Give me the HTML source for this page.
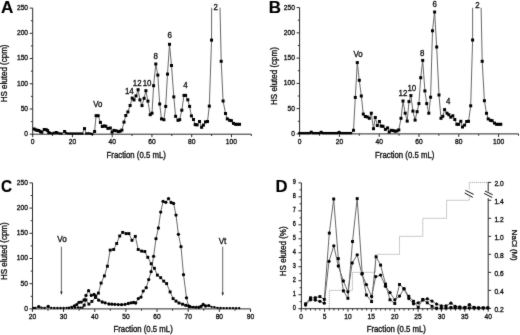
<!DOCTYPE html>
<html><head><meta charset="utf-8"><style>html,body{margin:0;padding:0;background:#fff;width:520px;height:335px;overflow:hidden}svg{display:block;filter:grayscale(1)}</style></head><body>
<svg width="520" height="335" viewBox="0 0 520 335" font-family='"Liberation Sans", sans-serif'>
<defs>
<filter id="soft" x="0" y="0" width="520" height="335" filterUnits="userSpaceOnUse" color-interpolation-filters="sRGB"><feConvolveMatrix order="3" kernelMatrix="0.01 0.07 0.01 0.07 0.68 0.07 0.01 0.07 0.01" edgeMode="duplicate"/></filter>
<clipPath id="cA"><rect x="30" y="7.8" width="230" height="130"/></clipPath>
<clipPath id="cB"><rect x="296" y="7.8" width="224" height="130"/></clipPath>
</defs>
<rect width="520" height="335" fill="#fff"/>
<g filter="url(#soft)">
<line x1="32.7" y1="8.1" x2="32.7" y2="134.7" stroke="#2a2a2a" stroke-width="1.0" />
<line x1="29.7" y1="134.2" x2="32.7" y2="134.2" stroke="#2a2a2a" stroke-width="1.0" />
<text transform="translate(28.1 136.1) scale(1 1.05)" font-size="6.7" text-anchor="end" font-weight="normal" fill="#111" stroke="#111" stroke-width="0.32">0</text>
<line x1="30.9" y1="121.59" x2="32.7" y2="121.59" stroke="#2a2a2a" stroke-width="1.0" />
<line x1="29.7" y1="108.98" x2="32.7" y2="108.98" stroke="#2a2a2a" stroke-width="1.0" />
<text transform="translate(28.1 110.88) scale(1 1.05)" font-size="6.7" text-anchor="end" font-weight="normal" fill="#111" stroke="#111" stroke-width="0.32">50</text>
<line x1="30.9" y1="96.37" x2="32.7" y2="96.37" stroke="#2a2a2a" stroke-width="1.0" />
<line x1="29.7" y1="83.76" x2="32.7" y2="83.76" stroke="#2a2a2a" stroke-width="1.0" />
<text transform="translate(28.1 85.66) scale(1 1.05)" font-size="6.7" text-anchor="end" font-weight="normal" fill="#111" stroke="#111" stroke-width="0.32">100</text>
<line x1="30.9" y1="71.15" x2="32.7" y2="71.15" stroke="#2a2a2a" stroke-width="1.0" />
<line x1="29.7" y1="58.54" x2="32.7" y2="58.54" stroke="#2a2a2a" stroke-width="1.0" />
<text transform="translate(28.1 60.44) scale(1 1.05)" font-size="6.7" text-anchor="end" font-weight="normal" fill="#111" stroke="#111" stroke-width="0.32">150</text>
<line x1="30.9" y1="45.93" x2="32.7" y2="45.93" stroke="#2a2a2a" stroke-width="1.0" />
<line x1="29.7" y1="33.32" x2="32.7" y2="33.32" stroke="#2a2a2a" stroke-width="1.0" />
<text transform="translate(28.1 35.22) scale(1 1.05)" font-size="6.7" text-anchor="end" font-weight="normal" fill="#111" stroke="#111" stroke-width="0.32">200</text>
<line x1="30.9" y1="20.71" x2="32.7" y2="20.71" stroke="#2a2a2a" stroke-width="1.0" />
<line x1="29.7" y1="8.1" x2="32.7" y2="8.1" stroke="#2a2a2a" stroke-width="1.0" />
<text transform="translate(28.1 10) scale(1 1.05)" font-size="6.7" text-anchor="end" font-weight="normal" fill="#111" stroke="#111" stroke-width="0.32">250</text>
<line x1="32.2" y1="134.2" x2="251.32" y2="134.2" stroke="#2a2a2a" stroke-width="1.0" />
<line x1="32.7" y1="134.2" x2="32.7" y2="137.2" stroke="#2a2a2a" stroke-width="1.0" />
<text transform="translate(32.7 144.1) scale(1 1.05)" font-size="6.7" text-anchor="middle" font-weight="normal" fill="#111" stroke="#111" stroke-width="0.32">0</text>
<line x1="52.58" y1="134.2" x2="52.58" y2="136" stroke="#2a2a2a" stroke-width="1.0" />
<line x1="72.45" y1="134.2" x2="72.45" y2="137.2" stroke="#2a2a2a" stroke-width="1.0" />
<text transform="translate(72.45 144.1) scale(1 1.05)" font-size="6.7" text-anchor="middle" font-weight="normal" fill="#111" stroke="#111" stroke-width="0.32">20</text>
<line x1="92.33" y1="134.2" x2="92.33" y2="136" stroke="#2a2a2a" stroke-width="1.0" />
<line x1="112.2" y1="134.2" x2="112.2" y2="137.2" stroke="#2a2a2a" stroke-width="1.0" />
<text transform="translate(112.2 144.1) scale(1 1.05)" font-size="6.7" text-anchor="middle" font-weight="normal" fill="#111" stroke="#111" stroke-width="0.32">40</text>
<line x1="132.07" y1="134.2" x2="132.07" y2="136" stroke="#2a2a2a" stroke-width="1.0" />
<line x1="151.95" y1="134.2" x2="151.95" y2="137.2" stroke="#2a2a2a" stroke-width="1.0" />
<text transform="translate(151.95 144.1) scale(1 1.05)" font-size="6.7" text-anchor="middle" font-weight="normal" fill="#111" stroke="#111" stroke-width="0.32">60</text>
<line x1="171.82" y1="134.2" x2="171.82" y2="136" stroke="#2a2a2a" stroke-width="1.0" />
<line x1="191.7" y1="134.2" x2="191.7" y2="137.2" stroke="#2a2a2a" stroke-width="1.0" />
<text transform="translate(191.7 144.1) scale(1 1.05)" font-size="6.7" text-anchor="middle" font-weight="normal" fill="#111" stroke="#111" stroke-width="0.32">80</text>
<line x1="211.57" y1="134.2" x2="211.57" y2="136" stroke="#2a2a2a" stroke-width="1.0" />
<line x1="231.45" y1="134.2" x2="231.45" y2="137.2" stroke="#2a2a2a" stroke-width="1.0" />
<text transform="translate(231.45 144.1) scale(1 1.05)" font-size="6.7" text-anchor="middle" font-weight="normal" fill="#111" stroke="#111" stroke-width="0.32">100</text>
<line x1="251.32" y1="134.2" x2="251.32" y2="136" stroke="#2a2a2a" stroke-width="1.0" />
<text transform="translate(136.2 158) scale(1 1.05)" font-size="7.8" text-anchor="middle" font-weight="normal" fill="#111" stroke="#111" stroke-width="0.32">Fraction (0.5 mL)</text>
<text transform="translate(6.85 73.4) rotate(-90) scale(1 1.05)" font-size="8.0" text-anchor="middle" font-weight="normal" fill="#111" stroke="#111" stroke-width="0.32">HS eluted (cpm)</text>
<polyline points="34.2,129 35.8,129.9 37.3,130.3 38.8,130.5 40.4,131.7 41.9,132.2 44.2,129.5 46.2,129.7 47.6,130.6 48.8,132.6 50.4,133 52.3,133.4 53.8,132.8 56.2,132.5 57.7,132.8 59.6,133.4 61.5,133.6 64.6,131.5 66.2,133 68.3,133.5 70.3,133.5 72.3,133.5 74.3,133.5 76.3,133.5 78.3,133.5 80.3,133.5 82.3,133.5 84.5,128.6 86.3,133.5 88.4,133.3 90.4,133.6 92.3,134 94.6,131.5 96.1,115.7 98.2,115.7 100.4,122.4 102.3,126.5 104.2,125.9 105.8,126.3 107.9,128.4 110.3,128 112.1,132.2 113.9,130.4 116.1,130.8 118.4,131.6 120.2,131.2 121.9,130.1 124,122.1 125.8,115.5 127.9,111.9 130.1,105.5 132.2,98.1 134,99.9 136,95.9 138.1,89.7 139.9,99.9 142,105.6 144.1,98.3 145.9,90.7 147.9,101.1 150.2,114.7 152,113.2 153.6,85.7 155.8,64 157.8,75.1 159.7,104 161.5,118.9 163.9,119.7 165.7,106.4 167.5,74.1 169.5,44.3 171.5,65.5 173.8,96.9 175.6,116.3 178,120.3 179.7,119.7 181.8,110.2 184,95.4 185.6,95.4 187.8,99.8 189.6,106.4 191.4,115.9 193.5,119.5 195.2,124.6 197.1,124.9 199.5,121.5 201.6,127.3 203.4,125.1 205.5,121.9 207.5,121.5 209.3,106.1 211.55,40.1 211.65,7.8 211.65,-400 220,-400 220,7.8 221.2,61.3 223.1,101 225.5,113.5 227.3,118.9 229.7,120.3 231.4,120.7 233.5,123.4 235.6,124.3 237.4,124.3 239.5,124.3" fill="none" stroke="#686868" stroke-width="1.0" stroke-linejoin="round" clip-path="url(#cA)"/>
<g fill="#000">
<rect x="32.7" y="127.5" width="3.0" height="3.0"/>
<rect x="34.3" y="128.4" width="3.0" height="3.0"/>
<rect x="35.8" y="128.8" width="3.0" height="3.0"/>
<rect x="37.3" y="129" width="3.0" height="3.0"/>
<rect x="38.9" y="130.2" width="3.0" height="3.0"/>
<rect x="40.4" y="130.7" width="3.0" height="3.0"/>
<rect x="42.7" y="128" width="3.0" height="3.0"/>
<rect x="44.7" y="128.2" width="3.0" height="3.0"/>
<rect x="46.1" y="129.1" width="3.0" height="3.0"/>
<rect x="47.3" y="131.1" width="3.0" height="3.0"/>
<rect x="49.3" y="131.9" width="2.2" height="2.2"/>
<rect x="51.2" y="132.3" width="2.2" height="2.2"/>
<rect x="52.7" y="131.7" width="2.2" height="2.2"/>
<rect x="54.7" y="131" width="3.0" height="3.0"/>
<rect x="56.6" y="131.7" width="2.2" height="2.2"/>
<rect x="58.5" y="132.3" width="2.2" height="2.2"/>
<rect x="60.4" y="132.5" width="2.2" height="2.2"/>
<rect x="63.1" y="130" width="3.0" height="3.0"/>
<rect x="65.1" y="131.9" width="2.2" height="2.2"/>
<rect x="67.2" y="132.4" width="2.2" height="2.2"/>
<rect x="69.2" y="132.4" width="2.2" height="2.2"/>
<rect x="71.2" y="132.4" width="2.2" height="2.2"/>
<rect x="73.2" y="132.4" width="2.2" height="2.2"/>
<rect x="75.2" y="132.4" width="2.2" height="2.2"/>
<rect x="77.2" y="132.4" width="2.2" height="2.2"/>
<rect x="79.2" y="132.4" width="2.2" height="2.2"/>
<rect x="81.2" y="132.4" width="2.2" height="2.2"/>
<rect x="83" y="127.1" width="3.0" height="3.0"/>
<rect x="85.2" y="132.4" width="2.2" height="2.2"/>
<rect x="87.3" y="132.2" width="2.2" height="2.2"/>
<rect x="89.3" y="132.5" width="2.2" height="2.2"/>
<rect x="91.2" y="132.9" width="2.2" height="2.2"/>
<rect x="93.1" y="130" width="3.0" height="3.0"/>
<rect x="94.6" y="114.2" width="3.0" height="3.0"/>
<rect x="96.7" y="114.2" width="3.0" height="3.0"/>
<rect x="98.9" y="120.9" width="3.0" height="3.0"/>
<rect x="100.8" y="125" width="3.0" height="3.0"/>
<rect x="102.7" y="124.4" width="3.0" height="3.0"/>
<rect x="104.3" y="124.8" width="3.0" height="3.0"/>
<rect x="106.4" y="126.9" width="3.0" height="3.0"/>
<rect x="108.8" y="126.5" width="3.0" height="3.0"/>
<rect x="110.6" y="130.7" width="3.0" height="3.0"/>
<rect x="112.4" y="128.9" width="3.0" height="3.0"/>
<rect x="114.6" y="129.3" width="3.0" height="3.0"/>
<rect x="116.9" y="130.1" width="3.0" height="3.0"/>
<rect x="118.7" y="129.7" width="3.0" height="3.0"/>
<rect x="120.4" y="128.6" width="3.0" height="3.0"/>
<rect x="122.5" y="120.6" width="3.0" height="3.0"/>
<rect x="124.3" y="114" width="3.0" height="3.0"/>
<rect x="126.4" y="110.4" width="3.0" height="3.0"/>
<rect x="128.6" y="104" width="3.0" height="3.0"/>
<rect x="130.7" y="96.6" width="3.0" height="3.0"/>
<rect x="132.5" y="98.4" width="3.0" height="3.0"/>
<rect x="134.5" y="94.4" width="3.0" height="3.0"/>
<rect x="136.6" y="88.2" width="3.0" height="3.0"/>
<rect x="138.4" y="98.4" width="3.0" height="3.0"/>
<rect x="140.5" y="104.1" width="3.0" height="3.0"/>
<rect x="142.6" y="96.8" width="3.0" height="3.0"/>
<rect x="144.4" y="89.2" width="3.0" height="3.0"/>
<rect x="146.4" y="99.6" width="3.0" height="3.0"/>
<rect x="148.7" y="113.2" width="3.0" height="3.0"/>
<rect x="150.5" y="111.7" width="3.0" height="3.0"/>
<rect x="152.1" y="84.2" width="3.0" height="3.0"/>
<rect x="154.3" y="62.5" width="3.0" height="3.0"/>
<rect x="156.3" y="73.6" width="3.0" height="3.0"/>
<rect x="158.2" y="102.5" width="3.0" height="3.0"/>
<rect x="160" y="117.4" width="3.0" height="3.0"/>
<rect x="162.4" y="118.2" width="3.0" height="3.0"/>
<rect x="164.2" y="104.9" width="3.0" height="3.0"/>
<rect x="166" y="72.6" width="3.0" height="3.0"/>
<rect x="168" y="42.8" width="3.0" height="3.0"/>
<rect x="170" y="64" width="3.0" height="3.0"/>
<rect x="172.3" y="95.4" width="3.0" height="3.0"/>
<rect x="174.1" y="114.8" width="3.0" height="3.0"/>
<rect x="176.5" y="118.8" width="3.0" height="3.0"/>
<rect x="178.2" y="118.2" width="3.0" height="3.0"/>
<rect x="180.3" y="108.7" width="3.0" height="3.0"/>
<rect x="182.5" y="93.9" width="3.0" height="3.0"/>
<rect x="184.1" y="93.9" width="3.0" height="3.0"/>
<rect x="186.3" y="98.3" width="3.0" height="3.0"/>
<rect x="188.1" y="104.9" width="3.0" height="3.0"/>
<rect x="189.9" y="114.4" width="3.0" height="3.0"/>
<rect x="192" y="118" width="3.0" height="3.0"/>
<rect x="193.7" y="123.1" width="3.0" height="3.0"/>
<rect x="195.6" y="123.4" width="3.0" height="3.0"/>
<rect x="198" y="120" width="3.0" height="3.0"/>
<rect x="200.1" y="125.8" width="3.0" height="3.0"/>
<rect x="201.9" y="123.6" width="3.0" height="3.0"/>
<rect x="204" y="120.4" width="3.0" height="3.0"/>
<rect x="206" y="120" width="3.0" height="3.0"/>
<rect x="207.8" y="104.6" width="3.0" height="3.0"/>
<rect x="210.05" y="38.6" width="3.0" height="3.0"/>
<rect x="219.7" y="59.8" width="3.0" height="3.0"/>
<rect x="221.6" y="99.5" width="3.0" height="3.0"/>
<rect x="224" y="112" width="3.0" height="3.0"/>
<rect x="225.8" y="117.4" width="3.0" height="3.0"/>
<rect x="228.2" y="118.8" width="3.0" height="3.0"/>
<rect x="229.9" y="119.2" width="3.0" height="3.0"/>
<rect x="232" y="121.9" width="3.0" height="3.0"/>
<rect x="234.1" y="122.8" width="3.0" height="3.0"/>
<rect x="235.9" y="122.8" width="3.0" height="3.0"/>
<rect x="238" y="122.8" width="3.0" height="3.0"/>
</g>
<line x1="299.6" y1="7.6" x2="299.6" y2="134.4" stroke="#2a2a2a" stroke-width="1.0" />
<line x1="296.6" y1="133.9" x2="299.6" y2="133.9" stroke="#2a2a2a" stroke-width="1.0" />
<text transform="translate(295 135.8) scale(1 1.05)" font-size="6.7" text-anchor="end" font-weight="normal" fill="#111" stroke="#111" stroke-width="0.32">0</text>
<line x1="297.8" y1="121.27" x2="299.6" y2="121.27" stroke="#2a2a2a" stroke-width="1.0" />
<line x1="296.6" y1="108.64" x2="299.6" y2="108.64" stroke="#2a2a2a" stroke-width="1.0" />
<text transform="translate(295 110.54) scale(1 1.05)" font-size="6.7" text-anchor="end" font-weight="normal" fill="#111" stroke="#111" stroke-width="0.32">50</text>
<line x1="297.8" y1="96.01" x2="299.6" y2="96.01" stroke="#2a2a2a" stroke-width="1.0" />
<line x1="296.6" y1="83.38" x2="299.6" y2="83.38" stroke="#2a2a2a" stroke-width="1.0" />
<text transform="translate(295 85.28) scale(1 1.05)" font-size="6.7" text-anchor="end" font-weight="normal" fill="#111" stroke="#111" stroke-width="0.32">100</text>
<line x1="297.8" y1="70.75" x2="299.6" y2="70.75" stroke="#2a2a2a" stroke-width="1.0" />
<line x1="296.6" y1="58.12" x2="299.6" y2="58.12" stroke="#2a2a2a" stroke-width="1.0" />
<text transform="translate(295 60.02) scale(1 1.05)" font-size="6.7" text-anchor="end" font-weight="normal" fill="#111" stroke="#111" stroke-width="0.32">150</text>
<line x1="297.8" y1="45.49" x2="299.6" y2="45.49" stroke="#2a2a2a" stroke-width="1.0" />
<line x1="296.6" y1="32.86" x2="299.6" y2="32.86" stroke="#2a2a2a" stroke-width="1.0" />
<text transform="translate(295 34.76) scale(1 1.05)" font-size="6.7" text-anchor="end" font-weight="normal" fill="#111" stroke="#111" stroke-width="0.32">200</text>
<line x1="297.8" y1="20.23" x2="299.6" y2="20.23" stroke="#2a2a2a" stroke-width="1.0" />
<line x1="296.6" y1="7.6" x2="299.6" y2="7.6" stroke="#2a2a2a" stroke-width="1.0" />
<text transform="translate(295 9.5) scale(1 1.05)" font-size="6.7" text-anchor="end" font-weight="normal" fill="#111" stroke="#111" stroke-width="0.32">250</text>
<line x1="299.1" y1="133.9" x2="518.5" y2="133.9" stroke="#2a2a2a" stroke-width="1.0" />
<line x1="299.6" y1="133.9" x2="299.6" y2="136.9" stroke="#2a2a2a" stroke-width="1.0" />
<text transform="translate(299.6 143.8) scale(1 1.05)" font-size="6.7" text-anchor="middle" font-weight="normal" fill="#111" stroke="#111" stroke-width="0.32">0</text>
<line x1="319.5" y1="133.9" x2="319.5" y2="135.7" stroke="#2a2a2a" stroke-width="1.0" />
<line x1="339.4" y1="133.9" x2="339.4" y2="136.9" stroke="#2a2a2a" stroke-width="1.0" />
<text transform="translate(339.4 143.8) scale(1 1.05)" font-size="6.7" text-anchor="middle" font-weight="normal" fill="#111" stroke="#111" stroke-width="0.32">20</text>
<line x1="359.3" y1="133.9" x2="359.3" y2="135.7" stroke="#2a2a2a" stroke-width="1.0" />
<line x1="379.2" y1="133.9" x2="379.2" y2="136.9" stroke="#2a2a2a" stroke-width="1.0" />
<text transform="translate(379.2 143.8) scale(1 1.05)" font-size="6.7" text-anchor="middle" font-weight="normal" fill="#111" stroke="#111" stroke-width="0.32">40</text>
<line x1="399.1" y1="133.9" x2="399.1" y2="135.7" stroke="#2a2a2a" stroke-width="1.0" />
<line x1="419" y1="133.9" x2="419" y2="136.9" stroke="#2a2a2a" stroke-width="1.0" />
<text transform="translate(419 143.8) scale(1 1.05)" font-size="6.7" text-anchor="middle" font-weight="normal" fill="#111" stroke="#111" stroke-width="0.32">60</text>
<line x1="438.9" y1="133.9" x2="438.9" y2="135.7" stroke="#2a2a2a" stroke-width="1.0" />
<line x1="458.8" y1="133.9" x2="458.8" y2="136.9" stroke="#2a2a2a" stroke-width="1.0" />
<text transform="translate(458.8 143.8) scale(1 1.05)" font-size="6.7" text-anchor="middle" font-weight="normal" fill="#111" stroke="#111" stroke-width="0.32">80</text>
<line x1="478.7" y1="133.9" x2="478.7" y2="135.7" stroke="#2a2a2a" stroke-width="1.0" />
<line x1="498.6" y1="133.9" x2="498.6" y2="136.9" stroke="#2a2a2a" stroke-width="1.0" />
<text transform="translate(498.6 143.8) scale(1 1.05)" font-size="6.7" text-anchor="middle" font-weight="normal" fill="#111" stroke="#111" stroke-width="0.32">100</text>
<line x1="518.5" y1="133.9" x2="518.5" y2="135.7" stroke="#2a2a2a" stroke-width="1.0" />
<text transform="translate(404.7 158) scale(1 1.05)" font-size="7.8" text-anchor="middle" font-weight="normal" fill="#111" stroke="#111" stroke-width="0.32">Fraction (0.5 mL)</text>
<text transform="translate(276.95 76.05) rotate(-90) scale(1 1.05)" font-size="8.0" text-anchor="middle" font-weight="normal" fill="#111" stroke="#111" stroke-width="0.32">HS eluted (cpm)</text>
<polyline points="299.3,133.1 301.29,133.1 303.28,133.1 305.27,133.1 307.26,133.1 309.25,133.1 311.24,132.2 313.23,133.1 315.22,133.1 317.21,133.1 319.2,133.1 321.19,132.3 323.18,133.1 325.17,133.1 327.16,133.1 329.15,133.1 331.14,133.1 333.13,133.1 335.12,133.1 337.11,133.1 339.1,132.4 341.09,133.1 343.08,133.1 345.07,133.1 347.06,133.1 349.05,133.1 351.04,133.1 353.5,130.3 355.3,97.4 357.3,62.6 359.3,80.3 361.3,96 363.3,114.1 365.3,116.5 367.2,116.9 369.3,118.3 371.3,113.2 373.5,128.7 375.3,117.5 377.3,125.5 379.4,121.5 381.2,126.1 383,126.3 385.4,129.4 387.6,127.9 389.2,132 391.2,130.3 393.2,130.6 395.2,131.3 397,130.9 398.8,129.9 401,118.3 403,101 405.2,113.2 407.2,121.1 409,101.6 410.9,95.6 412.9,111.1 415.1,120.1 417.1,111.7 418.9,103.6 420.7,77.7 422.7,60.4 424.9,90.9 426.7,103.6 428.8,113.2 430.6,97.2 432.5,30.8 434.6,12 436.7,47 439,95 441,118.3 442.8,116.3 444.6,109.6 447,113.2 448.8,114.7 450.8,117.1 452.8,115.8 454.8,119.5 456.9,124.3 458.6,124.3 460.8,121.3 462.5,127 464.6,125.1 466.7,121.5 468.5,121.3 470.7,105.8 472.6,40 472.65,7.8 472.65,-400 481.1,-400 481.1,7.8 482.2,61.3 484.4,100.7 486.5,113.3 488.2,118.9 490.4,120.3 492.1,120.7 494.5,123.1 496.6,124.3 498.8,124.3 500.8,124.3" fill="none" stroke="#686868" stroke-width="1.0" stroke-linejoin="round" clip-path="url(#cB)"/>
<g fill="#000">
<rect x="298.15" y="131.95" width="2.3" height="2.3"/>
<rect x="300.14" y="131.95" width="2.3" height="2.3"/>
<rect x="302.13" y="131.95" width="2.3" height="2.3"/>
<rect x="304.12" y="131.95" width="2.3" height="2.3"/>
<rect x="306.11" y="131.95" width="2.3" height="2.3"/>
<rect x="308.1" y="131.95" width="2.3" height="2.3"/>
<rect x="309.74" y="130.7" width="3.0" height="3.0"/>
<rect x="312.08" y="131.95" width="2.3" height="2.3"/>
<rect x="314.07" y="131.95" width="2.3" height="2.3"/>
<rect x="316.06" y="131.95" width="2.3" height="2.3"/>
<rect x="318.05" y="131.95" width="2.3" height="2.3"/>
<rect x="319.69" y="130.8" width="3.0" height="3.0"/>
<rect x="322.03" y="131.95" width="2.3" height="2.3"/>
<rect x="324.02" y="131.95" width="2.3" height="2.3"/>
<rect x="326.01" y="131.95" width="2.3" height="2.3"/>
<rect x="328" y="131.95" width="2.3" height="2.3"/>
<rect x="329.99" y="131.95" width="2.3" height="2.3"/>
<rect x="331.98" y="131.95" width="2.3" height="2.3"/>
<rect x="333.97" y="131.95" width="2.3" height="2.3"/>
<rect x="335.96" y="131.95" width="2.3" height="2.3"/>
<rect x="337.6" y="130.9" width="3.0" height="3.0"/>
<rect x="339.94" y="131.95" width="2.3" height="2.3"/>
<rect x="341.93" y="131.95" width="2.3" height="2.3"/>
<rect x="343.92" y="131.95" width="2.3" height="2.3"/>
<rect x="345.91" y="131.95" width="2.3" height="2.3"/>
<rect x="347.9" y="131.95" width="2.3" height="2.3"/>
<rect x="349.89" y="131.95" width="2.3" height="2.3"/>
<rect x="352" y="128.8" width="3.0" height="3.0"/>
<rect x="353.8" y="95.9" width="3.0" height="3.0"/>
<rect x="355.8" y="61.1" width="3.0" height="3.0"/>
<rect x="357.8" y="78.8" width="3.0" height="3.0"/>
<rect x="359.8" y="94.5" width="3.0" height="3.0"/>
<rect x="361.8" y="112.6" width="3.0" height="3.0"/>
<rect x="363.8" y="115" width="3.0" height="3.0"/>
<rect x="365.7" y="115.4" width="3.0" height="3.0"/>
<rect x="367.8" y="116.8" width="3.0" height="3.0"/>
<rect x="369.8" y="111.7" width="3.0" height="3.0"/>
<rect x="372" y="127.2" width="3.0" height="3.0"/>
<rect x="373.8" y="116" width="3.0" height="3.0"/>
<rect x="375.8" y="124" width="3.0" height="3.0"/>
<rect x="377.9" y="120" width="3.0" height="3.0"/>
<rect x="379.7" y="124.6" width="3.0" height="3.0"/>
<rect x="381.5" y="124.8" width="3.0" height="3.0"/>
<rect x="383.9" y="127.9" width="3.0" height="3.0"/>
<rect x="386.1" y="126.4" width="3.0" height="3.0"/>
<rect x="387.7" y="130.5" width="3.0" height="3.0"/>
<rect x="389.7" y="128.8" width="3.0" height="3.0"/>
<rect x="391.7" y="129.1" width="3.0" height="3.0"/>
<rect x="393.7" y="129.8" width="3.0" height="3.0"/>
<rect x="395.5" y="129.4" width="3.0" height="3.0"/>
<rect x="397.3" y="128.4" width="3.0" height="3.0"/>
<rect x="399.5" y="116.8" width="3.0" height="3.0"/>
<rect x="401.5" y="99.5" width="3.0" height="3.0"/>
<rect x="403.7" y="111.7" width="3.0" height="3.0"/>
<rect x="405.7" y="119.6" width="3.0" height="3.0"/>
<rect x="407.5" y="100.1" width="3.0" height="3.0"/>
<rect x="409.4" y="94.1" width="3.0" height="3.0"/>
<rect x="411.4" y="109.6" width="3.0" height="3.0"/>
<rect x="413.6" y="118.6" width="3.0" height="3.0"/>
<rect x="415.6" y="110.2" width="3.0" height="3.0"/>
<rect x="417.4" y="102.1" width="3.0" height="3.0"/>
<rect x="419.2" y="76.2" width="3.0" height="3.0"/>
<rect x="421.2" y="58.9" width="3.0" height="3.0"/>
<rect x="423.4" y="89.4" width="3.0" height="3.0"/>
<rect x="425.2" y="102.1" width="3.0" height="3.0"/>
<rect x="427.3" y="111.7" width="3.0" height="3.0"/>
<rect x="429.1" y="95.7" width="3.0" height="3.0"/>
<rect x="431" y="29.3" width="3.0" height="3.0"/>
<rect x="433.1" y="10.5" width="3.0" height="3.0"/>
<rect x="435.2" y="45.5" width="3.0" height="3.0"/>
<rect x="437.5" y="93.5" width="3.0" height="3.0"/>
<rect x="439.5" y="116.8" width="3.0" height="3.0"/>
<rect x="441.3" y="114.8" width="3.0" height="3.0"/>
<rect x="443.1" y="108.1" width="3.0" height="3.0"/>
<rect x="445.5" y="111.7" width="3.0" height="3.0"/>
<rect x="447.3" y="113.2" width="3.0" height="3.0"/>
<rect x="449.3" y="115.6" width="3.0" height="3.0"/>
<rect x="451.3" y="114.3" width="3.0" height="3.0"/>
<rect x="453.3" y="118" width="3.0" height="3.0"/>
<rect x="455.4" y="122.8" width="3.0" height="3.0"/>
<rect x="457.1" y="122.8" width="3.0" height="3.0"/>
<rect x="459.3" y="119.8" width="3.0" height="3.0"/>
<rect x="461" y="125.5" width="3.0" height="3.0"/>
<rect x="463.1" y="123.6" width="3.0" height="3.0"/>
<rect x="465.2" y="120" width="3.0" height="3.0"/>
<rect x="467" y="119.8" width="3.0" height="3.0"/>
<rect x="469.2" y="104.3" width="3.0" height="3.0"/>
<rect x="471.1" y="38.5" width="3.0" height="3.0"/>
<rect x="480.7" y="59.8" width="3.0" height="3.0"/>
<rect x="482.9" y="99.2" width="3.0" height="3.0"/>
<rect x="485" y="111.8" width="3.0" height="3.0"/>
<rect x="486.7" y="117.4" width="3.0" height="3.0"/>
<rect x="488.9" y="118.8" width="3.0" height="3.0"/>
<rect x="490.6" y="119.2" width="3.0" height="3.0"/>
<rect x="493" y="121.6" width="3.0" height="3.0"/>
<rect x="495.1" y="122.8" width="3.0" height="3.0"/>
<rect x="497.3" y="122.8" width="3.0" height="3.0"/>
<rect x="499.3" y="122.8" width="3.0" height="3.0"/>
</g>
<text transform="translate(97.8 107.42) scale(1 1.05)" font-size="7.9" text-anchor="middle" font-weight="normal" fill="#111" stroke="#111" stroke-width="0.32">Vo</text>
<text transform="translate(129.35 93.7) scale(1 1.05)" font-size="7.9" text-anchor="middle" font-weight="normal" fill="#111" stroke="#111" stroke-width="0.32">14</text>
<text transform="translate(137.25 85.8) scale(1 1.05)" font-size="7.9" text-anchor="middle" font-weight="normal" fill="#111" stroke="#111" stroke-width="0.32">12</text>
<text transform="translate(147.1 85.7) scale(1 1.05)" font-size="7.9" text-anchor="middle" font-weight="normal" fill="#111" stroke="#111" stroke-width="0.32">10</text>
<text transform="translate(155.75 59) scale(1 1.05)" font-size="7.9" text-anchor="middle" font-weight="normal" fill="#111" stroke="#111" stroke-width="0.32">8</text>
<text transform="translate(169.8 38.3) scale(1 1.05)" font-size="7.9" text-anchor="middle" font-weight="normal" fill="#111" stroke="#111" stroke-width="0.32">6</text>
<text transform="translate(185.45 88.3) scale(1 1.05)" font-size="7.9" text-anchor="middle" font-weight="normal" fill="#111" stroke="#111" stroke-width="0.32">4</text>
<text transform="translate(215.65 10.2) scale(1 1.05)" font-size="7.9" text-anchor="middle" font-weight="normal" fill="#111" stroke="#111" stroke-width="0.32">2</text>
<text transform="translate(358 56.77) scale(1 1.05)" font-size="7.9" text-anchor="middle" font-weight="normal" fill="#111" stroke="#111" stroke-width="0.32">Vo</text>
<text transform="translate(402.95 96.4) scale(1 1.05)" font-size="7.9" text-anchor="middle" font-weight="normal" fill="#111" stroke="#111" stroke-width="0.32">12</text>
<text transform="translate(411.85 91.05) scale(1 1.05)" font-size="7.9" text-anchor="middle" font-weight="normal" fill="#111" stroke="#111" stroke-width="0.32">10</text>
<text transform="translate(422.2 56) scale(1 1.05)" font-size="7.9" text-anchor="middle" font-weight="normal" fill="#111" stroke="#111" stroke-width="0.32">8</text>
<text transform="translate(434.75 6.65) scale(1 1.05)" font-size="7.9" text-anchor="middle" font-weight="normal" fill="#111" stroke="#111" stroke-width="0.32">6</text>
<text transform="translate(448.2 104.4) scale(1 1.05)" font-size="7.9" text-anchor="middle" font-weight="normal" fill="#111" stroke="#111" stroke-width="0.32">4</text>
<text transform="translate(477.4 8.2) scale(1 1.05)" font-size="7.9" text-anchor="middle" font-weight="normal" fill="#111" stroke="#111" stroke-width="0.32">2</text>
<line x1="32.5" y1="182.9" x2="32.5" y2="309.4" stroke="#2a2a2a" stroke-width="1.0" />
<line x1="29.5" y1="308.9" x2="32.5" y2="308.9" stroke="#2a2a2a" stroke-width="1.0" />
<text transform="translate(27.9 310.8) scale(1 1.05)" font-size="6.7" text-anchor="end" font-weight="normal" fill="#111" stroke="#111" stroke-width="0.32">0</text>
<line x1="30.7" y1="296.3" x2="32.5" y2="296.3" stroke="#2a2a2a" stroke-width="1.0" />
<line x1="29.5" y1="283.7" x2="32.5" y2="283.7" stroke="#2a2a2a" stroke-width="1.0" />
<text transform="translate(27.9 285.6) scale(1 1.05)" font-size="6.7" text-anchor="end" font-weight="normal" fill="#111" stroke="#111" stroke-width="0.32">50</text>
<line x1="30.7" y1="271.1" x2="32.5" y2="271.1" stroke="#2a2a2a" stroke-width="1.0" />
<line x1="29.5" y1="258.5" x2="32.5" y2="258.5" stroke="#2a2a2a" stroke-width="1.0" />
<text transform="translate(27.9 260.4) scale(1 1.05)" font-size="6.7" text-anchor="end" font-weight="normal" fill="#111" stroke="#111" stroke-width="0.32">100</text>
<line x1="30.7" y1="245.9" x2="32.5" y2="245.9" stroke="#2a2a2a" stroke-width="1.0" />
<line x1="29.5" y1="233.3" x2="32.5" y2="233.3" stroke="#2a2a2a" stroke-width="1.0" />
<text transform="translate(27.9 235.2) scale(1 1.05)" font-size="6.7" text-anchor="end" font-weight="normal" fill="#111" stroke="#111" stroke-width="0.32">150</text>
<line x1="30.7" y1="220.7" x2="32.5" y2="220.7" stroke="#2a2a2a" stroke-width="1.0" />
<line x1="29.5" y1="208.1" x2="32.5" y2="208.1" stroke="#2a2a2a" stroke-width="1.0" />
<text transform="translate(27.9 210) scale(1 1.05)" font-size="6.7" text-anchor="end" font-weight="normal" fill="#111" stroke="#111" stroke-width="0.32">200</text>
<line x1="30.7" y1="195.5" x2="32.5" y2="195.5" stroke="#2a2a2a" stroke-width="1.0" />
<line x1="29.5" y1="182.9" x2="32.5" y2="182.9" stroke="#2a2a2a" stroke-width="1.0" />
<text transform="translate(27.9 184.8) scale(1 1.05)" font-size="6.7" text-anchor="end" font-weight="normal" fill="#111" stroke="#111" stroke-width="0.32">250</text>
<line x1="32" y1="308.9" x2="250.52" y2="308.9" stroke="#2a2a2a" stroke-width="1.0" />
<line x1="32.4" y1="308.9" x2="32.4" y2="311.9" stroke="#2a2a2a" stroke-width="1.0" />
<text transform="translate(32.4 319.2) scale(1 1.05)" font-size="6.7" text-anchor="middle" font-weight="normal" fill="#111" stroke="#111" stroke-width="0.32">20</text>
<line x1="47.98" y1="308.9" x2="47.98" y2="310.7" stroke="#2a2a2a" stroke-width="1.0" />
<line x1="63.56" y1="308.9" x2="63.56" y2="311.9" stroke="#2a2a2a" stroke-width="1.0" />
<text transform="translate(63.56 319.2) scale(1 1.05)" font-size="6.7" text-anchor="middle" font-weight="normal" fill="#111" stroke="#111" stroke-width="0.32">30</text>
<line x1="79.14" y1="308.9" x2="79.14" y2="310.7" stroke="#2a2a2a" stroke-width="1.0" />
<line x1="94.72" y1="308.9" x2="94.72" y2="311.9" stroke="#2a2a2a" stroke-width="1.0" />
<text transform="translate(94.72 319.2) scale(1 1.05)" font-size="6.7" text-anchor="middle" font-weight="normal" fill="#111" stroke="#111" stroke-width="0.32">40</text>
<line x1="110.3" y1="308.9" x2="110.3" y2="310.7" stroke="#2a2a2a" stroke-width="1.0" />
<line x1="125.88" y1="308.9" x2="125.88" y2="311.9" stroke="#2a2a2a" stroke-width="1.0" />
<text transform="translate(125.88 319.2) scale(1 1.05)" font-size="6.7" text-anchor="middle" font-weight="normal" fill="#111" stroke="#111" stroke-width="0.32">50</text>
<line x1="141.46" y1="308.9" x2="141.46" y2="310.7" stroke="#2a2a2a" stroke-width="1.0" />
<line x1="157.04" y1="308.9" x2="157.04" y2="311.9" stroke="#2a2a2a" stroke-width="1.0" />
<text transform="translate(157.04 319.2) scale(1 1.05)" font-size="6.7" text-anchor="middle" font-weight="normal" fill="#111" stroke="#111" stroke-width="0.32">60</text>
<line x1="172.62" y1="308.9" x2="172.62" y2="310.7" stroke="#2a2a2a" stroke-width="1.0" />
<line x1="188.2" y1="308.9" x2="188.2" y2="311.9" stroke="#2a2a2a" stroke-width="1.0" />
<text transform="translate(188.2 319.2) scale(1 1.05)" font-size="6.7" text-anchor="middle" font-weight="normal" fill="#111" stroke="#111" stroke-width="0.32">70</text>
<line x1="203.78" y1="308.9" x2="203.78" y2="310.7" stroke="#2a2a2a" stroke-width="1.0" />
<line x1="219.36" y1="308.9" x2="219.36" y2="311.9" stroke="#2a2a2a" stroke-width="1.0" />
<text transform="translate(219.36 319.2) scale(1 1.05)" font-size="6.7" text-anchor="middle" font-weight="normal" fill="#111" stroke="#111" stroke-width="0.32">80</text>
<line x1="234.94" y1="308.9" x2="234.94" y2="310.7" stroke="#2a2a2a" stroke-width="1.0" />
<line x1="250.52" y1="308.9" x2="250.52" y2="311.9" stroke="#2a2a2a" stroke-width="1.0" />
<text transform="translate(250.52 319.2) scale(1 1.05)" font-size="6.7" text-anchor="middle" font-weight="normal" fill="#111" stroke="#111" stroke-width="0.32">90</text>
<text transform="translate(143.1 331.9) scale(1 1.05)" font-size="7.8" text-anchor="middle" font-weight="normal" fill="#111" stroke="#111" stroke-width="0.32">Fraction (0.5 mL)</text>
<text transform="translate(6.85 251.2) rotate(-90) scale(1 1.05)" font-size="8.0" text-anchor="middle" font-weight="normal" fill="#111" stroke="#111" stroke-width="0.32">HS eluted (cpm)</text>
<line x1="61.4" y1="246.7" x2="61.4" y2="293.5" stroke="#555" stroke-width="0.9" />
<path d="M60.2,291.6 L62.6,291.6 L61.4,295 Z" fill="#222"/>
<text transform="translate(62 242.2) scale(1 1.05)" font-size="8.2" text-anchor="middle" font-weight="normal" fill="#111" stroke="#111" stroke-width="0.32">Vo</text>
<line x1="222.7" y1="246.7" x2="222.7" y2="294.5" stroke="#555" stroke-width="0.9" />
<path d="M221.5,292.6 L223.9,292.6 L222.7,296 Z" fill="#222"/>
<text transform="translate(222.5 243.5) scale(1 1.05)" font-size="8.2" text-anchor="middle" font-weight="normal" fill="#111" stroke="#111" stroke-width="0.32">Vt</text>
<polyline points="69,308 72,307.8 75,307.6 78,307.4 80.4,307.6 82.5,307.6 84.2,305.2 85.9,299.9 88.9,304.1 91.9,301.4 95.4,297.5 98.4,293.1 101.1,283.1 104.4,275.9 107.4,266.2 110.2,250.1 113.7,249.5 116.7,243.5 119.7,236 122.7,232.4 126.1,233.6 128.9,233.6 132,240.3 135.3,236.4 138.2,249.5 141.6,251.1 144.8,251.5 147.8,257.3 151.2,263.8 154.4,268.3 157.4,275.1 160.7,277.7 163.7,281.1 166.6,283.6 170.1,291.9 173.1,298.6 176,301.1 179,303 182.5,304.2 185.7,305.3 189.5,306.5 192.5,307.1 195.6,307.6 198.7,307.9" fill="none" stroke="#686868" stroke-width="1.0" stroke-linejoin="round"/>
<polyline points="33.65,308 35.3,308 38.7,306.6 41.5,307.6 44.6,307.9 48.2,306.4 51.2,307.8 54.3,308 57.4,308 60.5,308 63.6,308 66.7,307.8 69.1,307.6 71.5,306.9 74.4,305.8 76.7,304.6 79,302.3 81.3,302.1 84,300 86,295.4 88.6,290.7 91.3,295.4 94,294.5 95.7,296 98.7,300.2 102.2,302 105.1,302.8 108.9,304 111.9,304.2 114.9,304.3 118.2,304.6 121.6,304.7 125,304.3 128.3,303.5 131,302.8 133.5,302.5 135.7,303 138.3,298.6 141,297.1 143.2,291.1 146.2,287.7 148.7,279.6 151.1,271.7 153.6,256.3 156,238.7 158.4,228 160.7,212.1 163.1,201.3 165.8,202.3 168.5,198.6 171.1,202.5 173.6,203.4 176,215.1 178.4,234.3 181,246.7 183.5,274.7 186.5,297.8 188.5,305.8 190.8,306.8 193.7,307 196.5,307 198.8,307 201,306.4 203.2,304.5 205.6,306 208.7,305.6 211.5,306.8 214.4,307.2 217.5,307.8 220.6,308 223.7,308.1 226.8,308.1 229.9,308.1 233,308.1 236.1,308.2 239.2,308.2" fill="none" stroke="#686868" stroke-width="1.0" stroke-linejoin="round"/>
<g fill="#000">
<rect x="68" y="307" width="2.0" height="2.0"/>
<rect x="71" y="306.8" width="2.0" height="2.0"/>
<rect x="74" y="306.6" width="2.0" height="2.0"/>
<rect x="77" y="306.4" width="2.0" height="2.0"/>
<rect x="79.4" y="306.6" width="2.0" height="2.0"/>
<rect x="81.5" y="306.6" width="2.0" height="2.0"/>
<rect x="82.75" y="303.75" width="2.9" height="2.9"/>
<rect x="84.45" y="298.45" width="2.9" height="2.9"/>
<rect x="87.45" y="302.65" width="2.9" height="2.9"/>
<rect x="90.45" y="299.95" width="2.9" height="2.9"/>
<rect x="93.95" y="296.05" width="2.9" height="2.9"/>
<rect x="96.95" y="291.65" width="2.9" height="2.9"/>
<rect x="99.65" y="281.65" width="2.9" height="2.9"/>
<rect x="102.95" y="274.45" width="2.9" height="2.9"/>
<rect x="105.95" y="264.75" width="2.9" height="2.9"/>
<rect x="108.75" y="248.65" width="2.9" height="2.9"/>
<rect x="112.25" y="248.05" width="2.9" height="2.9"/>
<rect x="115.25" y="242.05" width="2.9" height="2.9"/>
<rect x="118.25" y="234.55" width="2.9" height="2.9"/>
<rect x="121.25" y="230.95" width="2.9" height="2.9"/>
<rect x="124.65" y="232.15" width="2.9" height="2.9"/>
<rect x="127.45" y="232.15" width="2.9" height="2.9"/>
<rect x="130.55" y="238.85" width="2.9" height="2.9"/>
<rect x="133.85" y="234.95" width="2.9" height="2.9"/>
<rect x="136.75" y="248.05" width="2.9" height="2.9"/>
<rect x="140.15" y="249.65" width="2.9" height="2.9"/>
<rect x="143.35" y="250.05" width="2.9" height="2.9"/>
<rect x="146.35" y="255.85" width="2.9" height="2.9"/>
<rect x="149.75" y="262.35" width="2.9" height="2.9"/>
<rect x="152.95" y="266.85" width="2.9" height="2.9"/>
<rect x="155.95" y="273.65" width="2.9" height="2.9"/>
<rect x="159.25" y="276.25" width="2.9" height="2.9"/>
<rect x="162.25" y="279.65" width="2.9" height="2.9"/>
<rect x="165.15" y="282.15" width="2.9" height="2.9"/>
<rect x="168.65" y="290.45" width="2.9" height="2.9"/>
<rect x="171.65" y="297.15" width="2.9" height="2.9"/>
<rect x="174.55" y="299.65" width="2.9" height="2.9"/>
<rect x="177.55" y="301.55" width="2.9" height="2.9"/>
<rect x="181.05" y="302.75" width="2.9" height="2.9"/>
<rect x="184.25" y="303.85" width="2.9" height="2.9"/>
<rect x="188.05" y="305.05" width="2.9" height="2.9"/>
<rect x="191.5" y="306.1" width="2.0" height="2.0"/>
<rect x="194.6" y="306.6" width="2.0" height="2.0"/>
<rect x="197.7" y="306.9" width="2.0" height="2.0"/>
</g>
<g fill="#000">
<circle cx="33.65" cy="308" r="1.15"/>
<circle cx="35.3" cy="308" r="1.15"/>
<circle cx="38.7" cy="306.6" r="1.65"/>
<circle cx="41.5" cy="307.6" r="1.15"/>
<circle cx="44.6" cy="307.9" r="1.15"/>
<circle cx="48.2" cy="306.4" r="1.65"/>
<circle cx="51.2" cy="307.8" r="1.15"/>
<circle cx="54.3" cy="308" r="1.15"/>
<circle cx="57.4" cy="308" r="1.15"/>
<circle cx="60.5" cy="308" r="1.15"/>
<circle cx="63.6" cy="308" r="1.15"/>
<circle cx="66.7" cy="307.8" r="1.15"/>
<circle cx="69.1" cy="307.6" r="1.15"/>
<circle cx="71.5" cy="306.9" r="1.15"/>
<circle cx="74.4" cy="305.8" r="1.65"/>
<circle cx="76.7" cy="304.6" r="1.65"/>
<circle cx="79" cy="302.3" r="1.65"/>
<circle cx="81.3" cy="302.1" r="1.65"/>
<circle cx="84" cy="300" r="1.65"/>
<circle cx="86" cy="295.4" r="1.65"/>
<circle cx="88.6" cy="290.7" r="1.65"/>
<circle cx="91.3" cy="295.4" r="1.65"/>
<circle cx="94" cy="294.5" r="1.65"/>
<circle cx="95.7" cy="296" r="1.65"/>
<circle cx="98.7" cy="300.2" r="1.65"/>
<circle cx="102.2" cy="302" r="1.65"/>
<circle cx="105.1" cy="302.8" r="1.65"/>
<circle cx="108.9" cy="304" r="1.65"/>
<circle cx="111.9" cy="304.2" r="1.65"/>
<circle cx="114.9" cy="304.3" r="1.65"/>
<circle cx="118.2" cy="304.6" r="1.65"/>
<circle cx="121.6" cy="304.7" r="1.65"/>
<circle cx="125" cy="304.3" r="1.65"/>
<circle cx="128.3" cy="303.5" r="1.65"/>
<circle cx="131" cy="302.8" r="1.65"/>
<circle cx="133.5" cy="302.5" r="1.65"/>
<circle cx="135.7" cy="303" r="1.65"/>
<circle cx="138.3" cy="298.6" r="1.65"/>
<circle cx="141" cy="297.1" r="1.65"/>
<circle cx="143.2" cy="291.1" r="1.65"/>
<circle cx="146.2" cy="287.7" r="1.65"/>
<circle cx="148.7" cy="279.6" r="1.65"/>
<circle cx="151.1" cy="271.7" r="1.65"/>
<circle cx="153.6" cy="256.3" r="1.65"/>
<circle cx="156" cy="238.7" r="1.65"/>
<circle cx="158.4" cy="228" r="1.65"/>
<circle cx="160.7" cy="212.1" r="1.65"/>
<circle cx="163.1" cy="201.3" r="1.65"/>
<circle cx="165.8" cy="202.3" r="1.65"/>
<circle cx="168.5" cy="198.6" r="1.65"/>
<circle cx="171.1" cy="202.5" r="1.65"/>
<circle cx="173.6" cy="203.4" r="1.65"/>
<circle cx="176" cy="215.1" r="1.65"/>
<circle cx="178.4" cy="234.3" r="1.65"/>
<circle cx="181" cy="246.7" r="1.65"/>
<circle cx="183.5" cy="274.7" r="1.65"/>
<circle cx="186.5" cy="297.8" r="1.65"/>
<circle cx="188.5" cy="305.8" r="1.65"/>
<circle cx="190.8" cy="306.8" r="1.15"/>
<circle cx="193.7" cy="307" r="1.15"/>
<circle cx="196.5" cy="307" r="1.15"/>
<circle cx="198.8" cy="307" r="1.15"/>
<circle cx="201" cy="306.4" r="1.65"/>
<circle cx="203.2" cy="304.5" r="1.65"/>
<circle cx="205.6" cy="306" r="1.65"/>
<circle cx="208.7" cy="305.6" r="1.65"/>
<circle cx="211.5" cy="306.8" r="1.15"/>
<circle cx="214.4" cy="307.2" r="1.15"/>
<circle cx="217.5" cy="307.8" r="1.15"/>
<circle cx="220.6" cy="308" r="1.15"/>
<circle cx="223.7" cy="308.1" r="1.15"/>
<circle cx="226.8" cy="308.1" r="1.15"/>
<circle cx="229.9" cy="308.1" r="1.15"/>
<circle cx="233" cy="308.1" r="1.15"/>
<circle cx="236.1" cy="308.2" r="1.15"/>
<circle cx="239.2" cy="308.2" r="1.15"/>
</g>
<line x1="301.4" y1="182.9" x2="301.4" y2="309.2" stroke="#2a2a2a" stroke-width="1.0" />
<line x1="298.4" y1="308.7" x2="301.4" y2="308.7" stroke="#2a2a2a" stroke-width="1.0" />
<text transform="translate(295.8 310.3) scale(0.88 1.05)" font-size="6.3" text-anchor="end" fill="#111" stroke="#111" stroke-width="0.34">0</text>
<line x1="299.6" y1="301.71" x2="301.4" y2="301.71" stroke="#2a2a2a" stroke-width="1.0" />
<line x1="298.4" y1="294.72" x2="301.4" y2="294.72" stroke="#2a2a2a" stroke-width="1.0" />
<text transform="translate(295.8 296.32) scale(0.88 1.05)" font-size="6.3" text-anchor="end" fill="#111" stroke="#111" stroke-width="0.34">1</text>
<line x1="299.6" y1="287.73" x2="301.4" y2="287.73" stroke="#2a2a2a" stroke-width="1.0" />
<line x1="298.4" y1="280.74" x2="301.4" y2="280.74" stroke="#2a2a2a" stroke-width="1.0" />
<text transform="translate(295.8 282.34) scale(0.88 1.05)" font-size="6.3" text-anchor="end" fill="#111" stroke="#111" stroke-width="0.34">2</text>
<line x1="299.6" y1="273.75" x2="301.4" y2="273.75" stroke="#2a2a2a" stroke-width="1.0" />
<line x1="298.4" y1="266.76" x2="301.4" y2="266.76" stroke="#2a2a2a" stroke-width="1.0" />
<text transform="translate(295.8 268.36) scale(0.88 1.05)" font-size="6.3" text-anchor="end" fill="#111" stroke="#111" stroke-width="0.34">3</text>
<line x1="299.6" y1="259.77" x2="301.4" y2="259.77" stroke="#2a2a2a" stroke-width="1.0" />
<line x1="298.4" y1="252.78" x2="301.4" y2="252.78" stroke="#2a2a2a" stroke-width="1.0" />
<text transform="translate(295.8 254.38) scale(0.88 1.05)" font-size="6.3" text-anchor="end" fill="#111" stroke="#111" stroke-width="0.34">4</text>
<line x1="299.6" y1="245.79" x2="301.4" y2="245.79" stroke="#2a2a2a" stroke-width="1.0" />
<line x1="298.4" y1="238.8" x2="301.4" y2="238.8" stroke="#2a2a2a" stroke-width="1.0" />
<text transform="translate(295.8 240.4) scale(0.88 1.05)" font-size="6.3" text-anchor="end" fill="#111" stroke="#111" stroke-width="0.34">5</text>
<line x1="299.6" y1="231.81" x2="301.4" y2="231.81" stroke="#2a2a2a" stroke-width="1.0" />
<line x1="298.4" y1="224.82" x2="301.4" y2="224.82" stroke="#2a2a2a" stroke-width="1.0" />
<text transform="translate(295.8 226.42) scale(0.88 1.05)" font-size="6.3" text-anchor="end" fill="#111" stroke="#111" stroke-width="0.34">6</text>
<line x1="299.6" y1="217.83" x2="301.4" y2="217.83" stroke="#2a2a2a" stroke-width="1.0" />
<line x1="298.4" y1="210.84" x2="301.4" y2="210.84" stroke="#2a2a2a" stroke-width="1.0" />
<text transform="translate(295.8 212.44) scale(0.88 1.05)" font-size="6.3" text-anchor="end" fill="#111" stroke="#111" stroke-width="0.34">7</text>
<line x1="299.6" y1="203.85" x2="301.4" y2="203.85" stroke="#2a2a2a" stroke-width="1.0" />
<line x1="298.4" y1="196.86" x2="301.4" y2="196.86" stroke="#2a2a2a" stroke-width="1.0" />
<text transform="translate(295.8 198.46) scale(0.88 1.05)" font-size="6.3" text-anchor="end" fill="#111" stroke="#111" stroke-width="0.34">8</text>
<line x1="299.6" y1="189.87" x2="301.4" y2="189.87" stroke="#2a2a2a" stroke-width="1.0" />
<line x1="298.4" y1="182.88" x2="301.4" y2="182.88" stroke="#2a2a2a" stroke-width="1.0" />
<text transform="translate(295.8 184.48) scale(0.88 1.05)" font-size="6.3" text-anchor="end" fill="#111" stroke="#111" stroke-width="0.34">9</text>
<line x1="300.9" y1="308.7" x2="488.7" y2="308.7" stroke="#2a2a2a" stroke-width="1.0" />
<line x1="301.2" y1="308.7" x2="301.2" y2="311.7" stroke="#2a2a2a" stroke-width="1.0" />
<text transform="translate(301.2 319) scale(1 1.05)" font-size="6.7" text-anchor="middle" font-weight="normal" fill="#111" stroke="#111" stroke-width="0.32">0</text>
<line x1="305.88" y1="308.7" x2="305.88" y2="310.5" stroke="#2a2a2a" stroke-width="1.0" />
<line x1="310.55" y1="308.7" x2="310.55" y2="310.5" stroke="#2a2a2a" stroke-width="1.0" />
<line x1="315.22" y1="308.7" x2="315.22" y2="310.5" stroke="#2a2a2a" stroke-width="1.0" />
<line x1="319.9" y1="308.7" x2="319.9" y2="310.5" stroke="#2a2a2a" stroke-width="1.0" />
<line x1="324.57" y1="308.7" x2="324.57" y2="311.7" stroke="#2a2a2a" stroke-width="1.0" />
<text transform="translate(324.57 319) scale(1 1.05)" font-size="6.7" text-anchor="middle" font-weight="normal" fill="#111" stroke="#111" stroke-width="0.32">5</text>
<line x1="329.25" y1="308.7" x2="329.25" y2="310.5" stroke="#2a2a2a" stroke-width="1.0" />
<line x1="333.93" y1="308.7" x2="333.93" y2="310.5" stroke="#2a2a2a" stroke-width="1.0" />
<line x1="338.6" y1="308.7" x2="338.6" y2="310.5" stroke="#2a2a2a" stroke-width="1.0" />
<line x1="343.27" y1="308.7" x2="343.27" y2="310.5" stroke="#2a2a2a" stroke-width="1.0" />
<line x1="347.95" y1="308.7" x2="347.95" y2="311.7" stroke="#2a2a2a" stroke-width="1.0" />
<text transform="translate(347.95 319) scale(1 1.05)" font-size="6.7" text-anchor="middle" font-weight="normal" fill="#111" stroke="#111" stroke-width="0.32">10</text>
<line x1="352.62" y1="308.7" x2="352.62" y2="310.5" stroke="#2a2a2a" stroke-width="1.0" />
<line x1="357.3" y1="308.7" x2="357.3" y2="310.5" stroke="#2a2a2a" stroke-width="1.0" />
<line x1="361.97" y1="308.7" x2="361.97" y2="310.5" stroke="#2a2a2a" stroke-width="1.0" />
<line x1="366.65" y1="308.7" x2="366.65" y2="310.5" stroke="#2a2a2a" stroke-width="1.0" />
<line x1="371.32" y1="308.7" x2="371.32" y2="311.7" stroke="#2a2a2a" stroke-width="1.0" />
<text transform="translate(371.32 319) scale(1 1.05)" font-size="6.7" text-anchor="middle" font-weight="normal" fill="#111" stroke="#111" stroke-width="0.32">15</text>
<line x1="376" y1="308.7" x2="376" y2="310.5" stroke="#2a2a2a" stroke-width="1.0" />
<line x1="380.67" y1="308.7" x2="380.67" y2="310.5" stroke="#2a2a2a" stroke-width="1.0" />
<line x1="385.35" y1="308.7" x2="385.35" y2="310.5" stroke="#2a2a2a" stroke-width="1.0" />
<line x1="390.02" y1="308.7" x2="390.02" y2="310.5" stroke="#2a2a2a" stroke-width="1.0" />
<line x1="394.7" y1="308.7" x2="394.7" y2="311.7" stroke="#2a2a2a" stroke-width="1.0" />
<text transform="translate(394.7 319) scale(1 1.05)" font-size="6.7" text-anchor="middle" font-weight="normal" fill="#111" stroke="#111" stroke-width="0.32">20</text>
<line x1="399.38" y1="308.7" x2="399.38" y2="310.5" stroke="#2a2a2a" stroke-width="1.0" />
<line x1="404.05" y1="308.7" x2="404.05" y2="310.5" stroke="#2a2a2a" stroke-width="1.0" />
<line x1="408.72" y1="308.7" x2="408.72" y2="310.5" stroke="#2a2a2a" stroke-width="1.0" />
<line x1="413.4" y1="308.7" x2="413.4" y2="310.5" stroke="#2a2a2a" stroke-width="1.0" />
<line x1="418.07" y1="308.7" x2="418.07" y2="311.7" stroke="#2a2a2a" stroke-width="1.0" />
<text transform="translate(418.07 319) scale(1 1.05)" font-size="6.7" text-anchor="middle" font-weight="normal" fill="#111" stroke="#111" stroke-width="0.32">25</text>
<line x1="422.75" y1="308.7" x2="422.75" y2="310.5" stroke="#2a2a2a" stroke-width="1.0" />
<line x1="427.42" y1="308.7" x2="427.42" y2="310.5" stroke="#2a2a2a" stroke-width="1.0" />
<line x1="432.1" y1="308.7" x2="432.1" y2="310.5" stroke="#2a2a2a" stroke-width="1.0" />
<line x1="436.77" y1="308.7" x2="436.77" y2="310.5" stroke="#2a2a2a" stroke-width="1.0" />
<line x1="441.45" y1="308.7" x2="441.45" y2="311.7" stroke="#2a2a2a" stroke-width="1.0" />
<text transform="translate(441.45 319) scale(1 1.05)" font-size="6.7" text-anchor="middle" font-weight="normal" fill="#111" stroke="#111" stroke-width="0.32">30</text>
<line x1="446.12" y1="308.7" x2="446.12" y2="310.5" stroke="#2a2a2a" stroke-width="1.0" />
<line x1="450.8" y1="308.7" x2="450.8" y2="310.5" stroke="#2a2a2a" stroke-width="1.0" />
<line x1="455.48" y1="308.7" x2="455.48" y2="310.5" stroke="#2a2a2a" stroke-width="1.0" />
<line x1="460.15" y1="308.7" x2="460.15" y2="310.5" stroke="#2a2a2a" stroke-width="1.0" />
<line x1="464.82" y1="308.7" x2="464.82" y2="311.7" stroke="#2a2a2a" stroke-width="1.0" />
<text transform="translate(464.82 319) scale(1 1.05)" font-size="6.7" text-anchor="middle" font-weight="normal" fill="#111" stroke="#111" stroke-width="0.32">35</text>
<line x1="469.5" y1="308.7" x2="469.5" y2="310.5" stroke="#2a2a2a" stroke-width="1.0" />
<line x1="474.17" y1="308.7" x2="474.17" y2="310.5" stroke="#2a2a2a" stroke-width="1.0" />
<line x1="478.85" y1="308.7" x2="478.85" y2="310.5" stroke="#2a2a2a" stroke-width="1.0" />
<line x1="483.52" y1="308.7" x2="483.52" y2="310.5" stroke="#2a2a2a" stroke-width="1.0" />
<line x1="488.2" y1="308.7" x2="488.2" y2="311.7" stroke="#2a2a2a" stroke-width="1.0" />
<text transform="translate(488.2 319) scale(1 1.05)" font-size="6.7" text-anchor="middle" font-weight="normal" fill="#111" stroke="#111" stroke-width="0.32">40</text>
<line x1="488.2" y1="198.2" x2="488.2" y2="309.2" stroke="#2a2a2a" stroke-width="1.0" />
<line x1="488.2" y1="181.9" x2="488.2" y2="191.5" stroke="#2a2a2a" stroke-width="1.0" />
<line x1="488.2" y1="308.4" x2="491.2" y2="308.4" stroke="#2a2a2a" stroke-width="1.0" />
<text transform="translate(494.4 312) scale(1 1.05)" font-size="6.7" text-anchor="start" font-weight="normal" fill="#111" stroke="#111" stroke-width="0.32">0.2</text>
<line x1="488.2" y1="290.38" x2="491.2" y2="290.38" stroke="#2a2a2a" stroke-width="1.0" />
<text transform="translate(494.4 293.98) scale(1 1.05)" font-size="6.7" text-anchor="start" font-weight="normal" fill="#111" stroke="#111" stroke-width="0.32">0.4</text>
<line x1="488.2" y1="272.36" x2="491.2" y2="272.36" stroke="#2a2a2a" stroke-width="1.0" />
<text transform="translate(494.4 275.96) scale(1 1.05)" font-size="6.7" text-anchor="start" font-weight="normal" fill="#111" stroke="#111" stroke-width="0.32">0.6</text>
<line x1="488.2" y1="254.34" x2="491.2" y2="254.34" stroke="#2a2a2a" stroke-width="1.0" />
<text transform="translate(494.4 257.94) scale(1 1.05)" font-size="6.7" text-anchor="start" font-weight="normal" fill="#111" stroke="#111" stroke-width="0.32">0.8</text>
<line x1="488.2" y1="236.32" x2="491.2" y2="236.32" stroke="#2a2a2a" stroke-width="1.0" />
<text transform="translate(494.4 239.92) scale(1 1.05)" font-size="6.7" text-anchor="start" font-weight="normal" fill="#111" stroke="#111" stroke-width="0.32">1.0</text>
<line x1="488.2" y1="218.3" x2="491.2" y2="218.3" stroke="#2a2a2a" stroke-width="1.0" />
<text transform="translate(494.4 221.9) scale(1 1.05)" font-size="6.7" text-anchor="start" font-weight="normal" fill="#111" stroke="#111" stroke-width="0.32">1.2</text>
<line x1="488.2" y1="200.28" x2="491.2" y2="200.28" stroke="#2a2a2a" stroke-width="1.0" />
<text transform="translate(494.4 203.88) scale(1 1.05)" font-size="6.7" text-anchor="start" font-weight="normal" fill="#111" stroke="#111" stroke-width="0.32">1.4</text>
<line x1="488.2" y1="182.4" x2="491.2" y2="182.4" stroke="#2a2a2a" stroke-width="1.0" />
<text transform="translate(494.4 186.4) scale(1 1.05)" font-size="6.7" text-anchor="start" font-weight="normal" fill="#111" stroke="#111" stroke-width="0.32">2.0</text>
<line x1="485" y1="191" x2="492.7" y2="194.8" stroke="#111" stroke-width="1.0" />
<line x1="484.1" y1="193.4" x2="492.2" y2="197.5" stroke="#111" stroke-width="1.0" />
<line x1="465.4" y1="190.3" x2="473.7" y2="194.4" stroke="#111" stroke-width="1.0" />
<line x1="464.7" y1="193" x2="472.8" y2="197.4" stroke="#111" stroke-width="1.0" />
<polyline points="329.3,308.2 329.3,290.38 352.4,290.38 352.4,272.36 375.4,272.36 375.4,254.34 399.5,254.34 399.5,236.32 422.8,236.32 422.8,218.3 446.6,218.3 446.6,200.28 469.3,200.28 469.3,196" fill="none" stroke="#8c8c8c" stroke-width="0.9" stroke-dasharray="1 1"/>
<polyline points="469.3,189.5 469.3,182.4 488.2,182.4" fill="none" stroke="#8c8c8c" stroke-width="0.9" stroke-dasharray="1 1"/>
<text transform="translate(396.3 331.9) scale(1 1.05)" font-size="7.8" text-anchor="middle" font-weight="normal" fill="#111" stroke="#111" stroke-width="0.32">Fraction (0.5 mL)</text>
<text transform="translate(285.75 251.3) rotate(-90) scale(1 1.05)" font-size="8.0" text-anchor="middle" font-weight="normal" fill="#111" stroke="#111" stroke-width="0.32">HS eluted (%)</text>
<text transform="translate(511.75 245.2) rotate(90) scale(1 1.05)" font-size="7.7" text-anchor="middle" font-weight="normal" fill="#111" stroke="#111" stroke-width="0.32">NaCl (M)</text>
<polyline points="305.6,303.8 310.5,297.8 315.3,297.8 319.9,296.6 324.3,299.4 329.3,233.1 333.7,199 338.3,258.6 343.4,290.9 347.9,298.3 352.5,241.5 357.2,198.6 362.2,273.5 366.4,295 371.6,301.6 376.1,256.8 380.6,265.1 385.5,284.1 390,299.8 394.8,303.5 399.5,284.5 404,288.7 408.8,296.3 413.5,301.3 418.2,307.3 422.8,299.4 427.3,302.8 432,306.3 436.6,308.2 441.3,308.1 446,308 450.9,307.5 455.2,307.8 459.8,307.8 464.8,308 469.4,307.8 474.2,307.9 478.6,307.9 483.2,307.9 487.8,307.9" fill="none" stroke="#686868" stroke-width="1.0" stroke-linejoin="round"/>
<polyline points="305.6,305 310.5,299.8 315.3,300.1 319.9,301.3 324.3,303.2 329,261.3 333.8,245.8 338.3,266 343.4,281 347.9,291.8 352.2,263 357.2,254.8 361.9,274.1 366.4,284.6 371.6,296.5 375.7,276.6 380.6,275.1 385.5,286.3 390,292.6 394.8,299.8 399.5,296.1 404,288.8 408.8,298.6 413.5,303.8 418.2,302.8 422.8,300 427.3,298.8 432,301.1 436.6,304.1 441.3,305.8 446,305.8 450.9,303.2 455.2,306.3 459.8,306.9 464.8,307.5 469.4,304.6 474.2,307.5 478.6,307.8 483.2,307.8 487.8,307.8" fill="none" stroke="#686868" stroke-width="1.0" stroke-linejoin="round"/>
<g fill="#000">
<rect x="304.15" y="302.35" width="2.9" height="2.9"/>
<rect x="309.05" y="296.35" width="2.9" height="2.9"/>
<rect x="313.85" y="296.35" width="2.9" height="2.9"/>
<rect x="318.45" y="295.15" width="2.9" height="2.9"/>
<rect x="322.85" y="297.95" width="2.9" height="2.9"/>
<rect x="327.85" y="231.65" width="2.9" height="2.9"/>
<rect x="332.25" y="197.55" width="2.9" height="2.9"/>
<rect x="336.85" y="257.15" width="2.9" height="2.9"/>
<rect x="341.95" y="289.45" width="2.9" height="2.9"/>
<rect x="346.45" y="296.85" width="2.9" height="2.9"/>
<rect x="351.05" y="240.05" width="2.9" height="2.9"/>
<rect x="355.75" y="197.15" width="2.9" height="2.9"/>
<rect x="360.75" y="272.05" width="2.9" height="2.9"/>
<rect x="364.95" y="293.55" width="2.9" height="2.9"/>
<rect x="370.15" y="300.15" width="2.9" height="2.9"/>
<rect x="374.65" y="255.35" width="2.9" height="2.9"/>
<rect x="379.15" y="263.65" width="2.9" height="2.9"/>
<rect x="384.05" y="282.65" width="2.9" height="2.9"/>
<rect x="388.55" y="298.35" width="2.9" height="2.9"/>
<rect x="393.35" y="302.05" width="2.9" height="2.9"/>
<rect x="398.05" y="283.05" width="2.9" height="2.9"/>
<rect x="402.55" y="287.25" width="2.9" height="2.9"/>
<rect x="407.35" y="294.85" width="2.9" height="2.9"/>
<rect x="412.05" y="299.85" width="2.9" height="2.9"/>
<rect x="416.75" y="305.85" width="2.9" height="2.9"/>
<rect x="421.35" y="297.95" width="2.9" height="2.9"/>
<rect x="425.85" y="301.35" width="2.9" height="2.9"/>
<rect x="430.55" y="304.85" width="2.9" height="2.9"/>
<rect x="435.15" y="306.75" width="2.9" height="2.9"/>
<rect x="439.85" y="306.65" width="2.9" height="2.9"/>
<rect x="444.55" y="306.55" width="2.9" height="2.9"/>
<rect x="449.45" y="306.05" width="2.9" height="2.9"/>
<rect x="453.75" y="306.35" width="2.9" height="2.9"/>
<rect x="458.35" y="306.35" width="2.9" height="2.9"/>
<rect x="463.35" y="306.55" width="2.9" height="2.9"/>
<rect x="467.95" y="306.35" width="2.9" height="2.9"/>
<rect x="472.75" y="306.45" width="2.9" height="2.9"/>
<rect x="477.15" y="306.45" width="2.9" height="2.9"/>
<rect x="481.75" y="306.45" width="2.9" height="2.9"/>
<rect x="486.35" y="306.45" width="2.9" height="2.9"/>
</g>
<g fill="#000">
<circle cx="305.6" cy="305" r="1.65"/>
<circle cx="310.5" cy="299.8" r="1.65"/>
<circle cx="315.3" cy="300.1" r="1.65"/>
<circle cx="319.9" cy="301.3" r="1.65"/>
<circle cx="324.3" cy="303.2" r="1.65"/>
<circle cx="329" cy="261.3" r="1.65"/>
<circle cx="333.8" cy="245.8" r="1.65"/>
<circle cx="338.3" cy="266" r="1.65"/>
<circle cx="343.4" cy="281" r="1.65"/>
<circle cx="347.9" cy="291.8" r="1.65"/>
<circle cx="352.2" cy="263" r="1.65"/>
<circle cx="357.2" cy="254.8" r="1.65"/>
<circle cx="361.9" cy="274.1" r="1.65"/>
<circle cx="366.4" cy="284.6" r="1.65"/>
<circle cx="371.6" cy="296.5" r="1.65"/>
<circle cx="375.7" cy="276.6" r="1.65"/>
<circle cx="380.6" cy="275.1" r="1.65"/>
<circle cx="385.5" cy="286.3" r="1.65"/>
<circle cx="390" cy="292.6" r="1.65"/>
<circle cx="394.8" cy="299.8" r="1.65"/>
<circle cx="399.5" cy="296.1" r="1.65"/>
<circle cx="404" cy="288.8" r="1.65"/>
<circle cx="408.8" cy="298.6" r="1.65"/>
<circle cx="413.5" cy="303.8" r="1.65"/>
<circle cx="418.2" cy="302.8" r="1.65"/>
<circle cx="422.8" cy="300" r="1.65"/>
<circle cx="427.3" cy="298.8" r="1.65"/>
<circle cx="432" cy="301.1" r="1.65"/>
<circle cx="436.6" cy="304.1" r="1.65"/>
<circle cx="441.3" cy="305.8" r="1.65"/>
<circle cx="446" cy="305.8" r="1.65"/>
<circle cx="450.9" cy="303.2" r="1.65"/>
<circle cx="455.2" cy="306.3" r="1.65"/>
<circle cx="459.8" cy="306.9" r="1.65"/>
<circle cx="464.8" cy="307.5" r="1.65"/>
<circle cx="469.4" cy="304.6" r="1.65"/>
<circle cx="474.2" cy="307.5" r="1.65"/>
<circle cx="478.6" cy="307.8" r="1.65"/>
<circle cx="483.2" cy="307.8" r="1.65"/>
<circle cx="487.8" cy="307.8" r="1.65"/>
</g>
<text transform="translate(1 12.5) scale(1.07 1)" font-size="16.0" font-weight="bold" fill="#000" stroke="#000" stroke-width="0.15">A</text>
<text transform="translate(268.8 12.8) scale(1.06 1)" font-size="16.0" font-weight="bold" fill="#000" stroke="#000" stroke-width="0.15">B</text>
<text transform="translate(1 192) scale(0.96 1)" font-size="16.0" font-weight="bold" fill="#000" stroke="#000" stroke-width="0.15">C</text>
<text transform="translate(275.5 192.3) scale(1.04 1)" font-size="16.0" font-weight="bold" fill="#000" stroke="#000" stroke-width="0.15">D</text>
</g>
</svg>
</body></html>
